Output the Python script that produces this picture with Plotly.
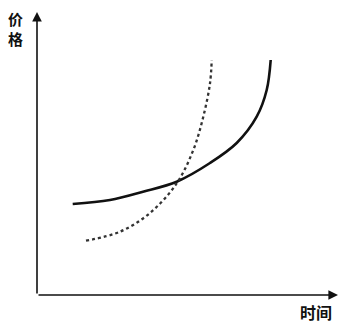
import plotly.graph_objects as go

# Data (arbitrary units, origin at axis corner)
solid_x = [35.7, 73, 106, 139.7, 173, 199.7, 219.7, 229.7, 233.7]
solid_y = [91, 95, 103.3, 113.3, 132, 152, 178.3, 205, 235]
dot_x = [49, 83, 113, 139.7, 156.3, 166.3, 173, 174.7]
dot_y = [54.3, 63.3, 82, 111.7, 145, 178.3, 211.7, 235]
y_label = "价<br>格"
x_label = "时间"

fig = go.Figure()
fig.add_trace(go.Scatter(x=solid_x, y=solid_y, mode="lines",
                         line=dict(color="#111111", width=2.6, shape="spline", smoothing=1.0),
                         hoverinfo="skip"))
fig.add_trace(go.Scatter(x=dot_x, y=dot_y, mode="lines",
                         line=dict(color="#333333", width=2.3, shape="spline", smoothing=1.0, dash="dot"),
                         hoverinfo="skip"))

font = dict(family="Noto Sans CJK SC", size=15, color="#111111")
# axes arrows
fig.add_annotation(x=0, y=283, ax=0, ay=0, xref="x", yref="y", axref="x", ayref="y",
                   showarrow=True, arrowhead=2, arrowsize=1.2, arrowwidth=1.6, arrowcolor="#111111", text="")
fig.add_annotation(x=301, y=0, ax=0, ay=0, xref="x", yref="y", axref="x", ayref="y",
                   showarrow=True, arrowhead=2, arrowsize=1.2, arrowwidth=1.6, arrowcolor="#111111", text="")
fig.add_annotation(x=-22, y=267, xref="x", yref="y", text="<b>" + y_label + "</b>",
                   showarrow=False, font=font)
fig.add_annotation(x=279, y=-16.5, xref="x", yref="y", text="<b>" + x_label + "</b>",
                   showarrow=False, font=dict(family="Noto Sans CJK SC", size=16, color="#111111"))

fig.update_layout(width=351, height=332, margin=dict(l=0, r=0, t=0, b=0),
                  paper_bgcolor="white", plot_bgcolor="white", showlegend=False,
                  xaxis=dict(range=[-37, 314], visible=False, fixedrange=True),
                  yaxis=dict(range=[-37, 295], visible=False, fixedrange=True))
fig.write_html("out.html", config={"displayModeBar": False})
